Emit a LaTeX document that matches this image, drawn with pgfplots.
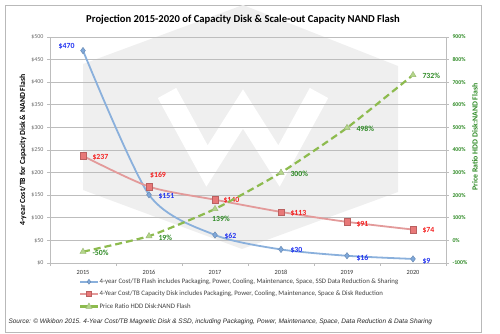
\documentclass[border=0pt]{standalone}
\usepackage{fontspec}
\setmainfont{Carlito}
\newfontfamily\arialfont{Liberation Sans}
\usepackage{pgfplots}
\pgfplotsset{compat=1.18}
\definecolor{flashline}{HTML}{8AB0DC}
\definecolor{flashmark}{HTML}{7FA8DA}
\definecolor{flashlab}{HTML}{2233F0}
\definecolor{diskline}{HTML}{E39A9A}
\definecolor{diskmark}{HTML}{E87878}
\definecolor{disklab}{HTML}{F42020}
\definecolor{ratioline}{HTML}{8DBB4E}
\definecolor{ratiomark}{HTML}{B4D68A}
\definecolor{ratiolab}{HTML}{2E8A25}
\definecolor{gridc}{HTML}{BDBDBD}
\definecolor{ticklab}{HTML}{6A6A6A}
\definecolor{wm}{HTML}{EFEFEF}

\pgfplotstableread{
x flash disk ratio
0 470 237 -50
1 151 169 19
2 62 140 139
3 30 113 300
4 16 91 498
5 9 74 732
}\datatable

\begin{document}
\begin{tikzpicture}[x=1pt,y=1pt]
\path[use as bounding box] (0,0) rectangle (500,333);
\draw[gray!55, line width=0.8pt] (5,1) rectangle (481,328);
% watermark
\fill[wm] (243,328) -- (398,267) -- (398,141) -- (242,84) -- (83,143) -- (83,269) -- cycle;
\draw[white, line width=21pt, line join=miter, line cap=butt] (167,240) -- (207,167) -- (243,224) -- (279,167) -- (319,240);

\node[font=\bfseries\fontsize{10.6}{12}\selectfont] at (243,313) {Projection 2015-2020 of Capacity Disk \& Scale-out Capacity NAND Flash};
\node[rotate=90, font=\bfseries\fontsize{7.8}{9}\selectfont] at (23,183) {4-year Cost/TB for Capacity Disk \& NAND Flash};
\node[rotate=90, text=ratiolab, font=\bfseries\fontsize{7.8}{9}\selectfont] at (475,196) {Price Ratio HDD Disk:NAND Flash};
\node[anchor=west, font=\arialfont\itshape\fontsize{6.5}{7}\selectfont, text=black!85] at (5,11) {Source: \textcopyright{} Wikibon 2015. 4-Year Cost/TB Magnetic Disk \& SSD, including Packaging, Power, Maintenance, Space, Data Reduction \& Data Sharing};

\begin{axis}[
  at={(50pt,70pt)}, anchor=south west, scale only axis,
  width=396pt, height=226pt,
  xmin=-0.5, xmax=5.5, ymin=0, ymax=500,
  axis x line*=bottom, axis y line*=left,
  axis line style={gridc, line width=0.8pt},
  xtick={0,...,5}, xticklabels={2015,2016,2017,2018,2019,2020},
  minor xtick={-0.5,0.5,1.5,2.5,3.5,4.5,5.5},
  major x tick style={draw=none},
  minor x tick style={gridc, line width=0.8pt},
  minor tick length=3pt,
  ytick={0,50,...,500},
  yticklabel={\$\pgfmathprintnumber{\tick}},
  /pgf/number format/assume math mode=true,
  major y tick style={gridc, line width=0.8pt},
  major tick length=3pt,
  tick align=outside,
  ymajorgrids, grid style={gridc, line width=0.8pt},
  tick label style={font=\fontsize{6}{7}\selectfont, text=ticklab},
  yticklabel style={xshift=0pt},
  xticklabel style={yshift=-1pt, font=\fontsize{6.3}{7}\selectfont, text=black!80},
  clip=false,
]
\addplot[flashline, line width=1.8pt, smooth, tension=0.45, mark=diamond*, mark size=3.2pt,
  mark options={fill=flashmark, draw=flashmark!80!black, line width=0.4pt, solid}]
  table[x=x, y=flash] {\datatable};
\addplot[diskline, line width=1.8pt, smooth, tension=0.45, mark=square*, mark size=3.2pt,
  mark options={fill=diskmark, draw=diskmark!80!black, line width=0.4pt, solid}]
  table[x=x, y=disk] {\datatable};
\begin{scope}[font=\bfseries\fontsize{7.8}{8}\selectfont]
\node[text=flashlab, anchor=east] at (axis cs:0,470) [xshift=-5pt, yshift=4pt] {\$470};
\node[text=flashlab, anchor=west] at (axis cs:1,151) [xshift=6pt, yshift=-2pt] {\$151};
\node[text=flashlab, anchor=west] at (axis cs:2,62) [xshift=6pt, yshift=-1pt] {\$62};
\node[text=flashlab, anchor=west] at (axis cs:3,30) [xshift=6pt, yshift=-1pt] {\$30};
\node[text=flashlab, anchor=west] at (axis cs:4,16) [xshift=6pt, yshift=-2pt] {\$16};
\node[text=flashlab, anchor=west] at (axis cs:5,9) [xshift=6pt, yshift=-2pt] {\$9};
\node[text=disklab, anchor=west] at (axis cs:0,237) [xshift=6pt, yshift=-1pt] {\$237};
\node[text=disklab, anchor=south] at (axis cs:1,169) [xshift=9pt, yshift=5pt] {\$169};
\node[text=disklab, anchor=west] at (axis cs:2,140) [xshift=5pt, yshift=-1pt] {\$140};
\node[text=disklab, anchor=west] at (axis cs:3,113) [xshift=6pt, yshift=-1pt] {\$113};
\node[text=disklab, anchor=west] at (axis cs:4,91) [xshift=6pt, yshift=-2pt] {\$91};
\node[text=disklab, anchor=west] at (axis cs:5,74) [xshift=6pt, yshift=-1pt] {\$74};
\end{scope}
\end{axis}

\begin{axis}[
  at={(50pt,70pt)}, anchor=south west, scale only axis,
  width=396pt, height=226pt,
  xmin=-0.5, xmax=5.5, ymin=-100, ymax=900,
  axis x line=none, axis y line*=right,
  axis line style={gridc, line width=0.8pt},
  ytick={-100,0,...,900},
  yticklabel={\pgfmathprintnumber{\tick}\%},
  /pgf/number format/assume math mode=true,
  major y tick style={gridc, line width=0.8pt},
  major tick length=3pt,
  tick align=outside,
  tick label style={font=\bfseries\fontsize{5.8}{7}\selectfont, text=ratiolab},
  yticklabel style={xshift=0pt},
  clip=false,
  legend style={at={(0.066,-0.055)}, anchor=north west, draw=none, fill=none,
    font=\fontsize{6.8}{7}\selectfont, text=black!75, row sep=4.2pt,
    nodes={inner sep=1pt}},
  legend cell align=left,
]
\addlegendimage{flashline, line width=1.8pt, mark=diamond*, mark size=2.5pt, mark options={fill=flashmark, draw=flashmark!80!black, line width=0.4pt}}
\addlegendentry{4-year Cost/TB Flash includes Packaging, Power, Cooling, Maintenance, Space, SSD Data Reduction \& Sharing}
\addlegendimage{diskline, line width=1.8pt, mark=square*, mark size=2.5pt, mark options={fill=diskmark, draw=diskmark!80!black, line width=0.4pt}}
\addlegendentry{4-Year Cost/TB Capacity Disk includes Packaging, Power, Cooling, Maintenance, Space \& Disk Reduction}
\addplot[ratioline, line width=2.2pt, dash pattern=on 7pt off 4pt, smooth, tension=0.3, mark=triangle*, mark size=3.6pt,
  mark options={fill=ratiomark, draw=ratiomark!85!black, line width=0.4pt, solid}]
  table[x=x, y=ratio] {\datatable};
\addlegendentry{Price Ratio HDD Disk:NAND Flash}
\begin{scope}[font=\bfseries\fontsize{7.8}{8}\selectfont, text=ratiolab]
\node[anchor=west] at (axis cs:0,-50) [xshift=6pt, yshift=-1pt] {-50\%};
\node[anchor=west] at (axis cs:1,19) [xshift=6pt, yshift=-2pt] {19\%};
\node[anchor=north] at (axis cs:2,139) [xshift=6pt, yshift=-4pt] {139\%};
\node[anchor=west] at (axis cs:3,300) [xshift=6pt, yshift=-1pt] {300\%};
\node[anchor=west] at (axis cs:4,498) [xshift=6pt, yshift=-1pt] {498\%};
\node[anchor=west] at (axis cs:5,732) [xshift=6pt, yshift=-1pt] {732\%};
\end{scope}
\end{axis}
\end{tikzpicture}
\end{document}
